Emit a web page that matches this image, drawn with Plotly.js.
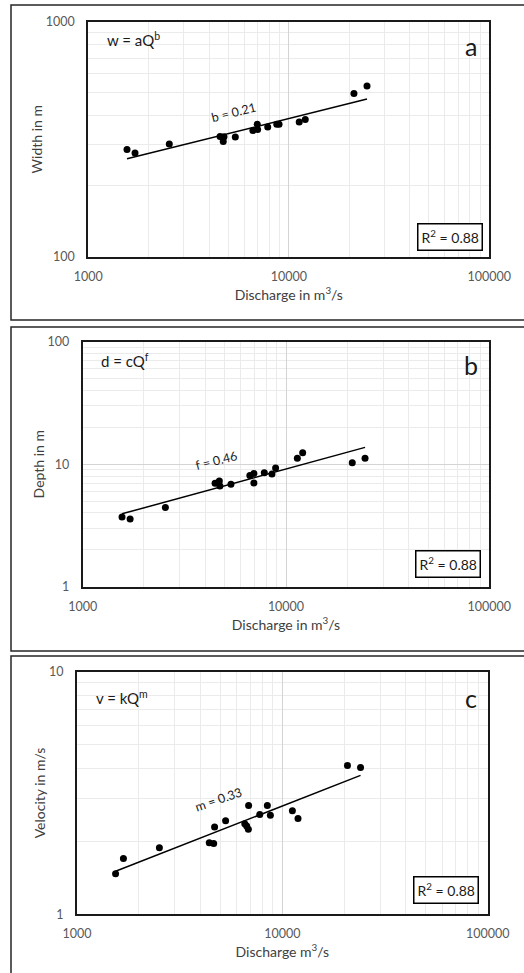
<!DOCTYPE html>
<html>
<head>
<meta charset="utf-8">
<script src="https://cdn.plot.ly/plotly-3.0.1.min.js"></script>
<style>
  html, body { margin: 0; padding: 0; background: #ffffff; }
  #chart { width: 524px; height: 973px; }
</style>
</head>
<body>
<div id="chart"></div>
<script>
// ---------------- DATA ----------------
// Panel a: width vs discharge
const qWidth = [1560, 1710, 2535, 4540, 4750, 4710, 5410, 6620, 6960, 6990, 7850, 8710, 8940, 11270, 12080, 21130, 24550];
const width  = [286, 276, 302, 325, 324, 309, 323, 344, 366, 348, 356, 366, 366, 374, 384, 495, 532];

// Panel b: depth vs discharge
const qDepth = [1561, 1711, 2551, 4478, 4700, 4730, 5360, 6640, 6950, 6950, 7820, 8530, 8890, 11370, 12080, 21180, 24480];
const depth  = [3.70, 3.57, 4.44, 6.98, 7.29, 6.63, 6.85, 8.08, 8.41, 7.02, 8.53, 8.32, 9.31, 11.2, 12.4, 10.3, 11.2];

// Panel c: velocity vs discharge
const qVelocity = [1541, 1683, 2519, 4406, 4630, 4677, 5293, 6561, 6703, 6829, 6850, 7762, 8451, 8744, 11190, 11920, 20750, 24030];
const velocity  = [1.47, 1.70, 1.88, 1.97, 1.96, 2.29, 2.43, 2.36, 2.31, 2.24, 2.81, 2.58, 2.81, 2.56, 2.67, 2.48, 4.11, 4.03];

// Tick labels
const xTickVals = [1000, 10000, 100000];
const xTickText = ["1000", "10000", "100000"];
const xMinorVals = [2000, 3000, 4000, 5000, 6000, 7000, 8000, 9000, 20000, 30000, 40000, 50000, 60000, 70000, 80000, 90000];
const yTickValsA = [100, 1000];
const yTickTextA = ["100", "1000"];
const yMinorValsA = [200, 300, 400, 500, 600, 700, 800, 900];
const yTickValsB = [1, 10, 100];
const yTickTextB = ["1", "10", "100"];
const yMinorValsB = [2, 3, 4, 5, 6, 7, 8, 9, 20, 30, 40, 50, 60, 70, 80, 90];
const yTickValsC = [1, 10];
const yTickTextC = ["1", "10"];
const yMinorValsC = [2, 3, 4, 5, 6, 7, 8, 9];

// Texts
const formulaA = "w = aQ<sup>b</sup>";
const formulaB = "d = cQ<sup>f</sup>";
const formulaC = "v = kQ<sup>m</sup>";
const exponentA = "b = 0.21";
const exponentB = "f = 0.46";
const exponentC = "m = 0.33";
const r2Text = "R<sup>2</sup> = 0.88";
const panelLetters = ["a", "b", "c"];
const yTitles = ["Width in m", "Depth in m", "Velocity in m/s"];
const xTitles = ["Discharge in m<sup>3</sup>/s", "Discharge in m<sup>3</sup>/s", "Discharge m<sup>3</sup>/s"];

// ---------------- HELPERS ----------------
function powerFit(xs, ys) {
  const lx = xs.map(Math.log10), ly = ys.map(Math.log10);
  const n = lx.length;
  const mx = lx.reduce((s, v) => s + v, 0) / n;
  const my = ly.reduce((s, v) => s + v, 0) / n;
  let sxy = 0, sxx = 0;
  for (let i = 0; i < n; i++) { sxy += (lx[i] - mx) * (ly[i] - my); sxx += (lx[i] - mx) ** 2; }
  const slope = sxy / sxx;
  const inter = my - slope * mx;
  const xmin = Math.min(...xs), xmax = Math.max(...xs);
  return { x: [xmin, xmax], y: [Math.pow(10, inter + slope * Math.log10(xmin)), Math.pow(10, inter + slope * Math.log10(xmax))] };
}

const FONT = 'Lato, "Liberation Sans", sans-serif';
const GRAY = '#595959';

function scatter(xs, ys, xa, ya) {
  return { x: xs, y: ys, xaxis: xa, yaxis: ya, type: 'scatter', mode: 'markers',
           marker: { color: '#000000', size: 7 }, showlegend: false, hoverinfo: 'skip' };
}
function trend(xs, ys, xa, ya) {
  const f = powerFit(xs, ys);
  return { x: f.x, y: f.y, xaxis: xa, yaxis: ya, type: 'scatter', mode: 'lines',
           line: { color: '#000000', width: 1.5 }, showlegend: false, hoverinfo: 'skip' };
}

const data = [
  trend(qWidth, width, 'x', 'y'), scatter(qWidth, width, 'x', 'y'),
  trend(qDepth, depth, 'x2', 'y2'), scatter(qDepth, depth, 'x2', 'y2'),
  trend(qVelocity, velocity, 'x3', 'y3'), scatter(qVelocity, velocity, 'x3', 'y3')
];

function xAxis(domain, anchor, title) {
  return {
    type: 'log', domain: domain, anchor: anchor, range: [3, 5],
    tickmode: 'array', tickvals: xTickVals, ticktext: xTickText,
    showgrid: true, gridcolor: '#d4d4d4', gridwidth: 1,
    minor: { tickmode: 'array', tickvals: xMinorVals, showgrid: true, gridcolor: '#ebebeb', gridwidth: 1, ticks: '' },
    showline: true, linecolor: '#1a1a1a', linewidth: 2, mirror: true,
    ticks: '', ticklabelstandoff: 7,
    tickfont: { family: FONT, size: 12.5, color: GRAY },
    title: { text: title, font: { family: FONT, size: 14, color: '#404040' }, standoff: 7 },
    zeroline: false, fixedrange: true
  };
}
function yAxis(domain, anchor, range, tv, tt, mv, title) {
  return {
    type: 'log', domain: domain, anchor: anchor, range: range,
    tickmode: 'array', tickvals: tv, ticktext: tt,
    showgrid: true, gridcolor: '#d4d4d4', gridwidth: 1,
    minor: { tickmode: 'array', tickvals: mv, showgrid: true, gridcolor: '#ebebeb', gridwidth: 1, ticks: '' },
    showline: true, linecolor: '#1a1a1a', linewidth: 2, mirror: true,
    ticks: '', ticklabelstandoff: 9,
    tickfont: { family: FONT, size: 12.5, color: GRAY },
    title: { text: title, font: { family: FONT, size: 14, color: '#404040' }, standoff: 0 },
    zeroline: false, fixedrange: true
  };
}

function textAnn(xref, yref, x, y, text, size, opts) {
  return Object.assign({ xref: xref, yref: yref, x: x, y: y, text: text, showarrow: false,
    font: { family: FONT, size: size, color: '#1a1a1a' } }, opts || {});
}

const annotations = [
  // formulas
  textAnn('x domain', 'y domain', 0.042, 0.925, formulaA, 15, { xanchor: 'left', yanchor: 'middle' }),
  textAnn('x2 domain', 'y2 domain', 0.040, 0.922, formulaB, 15, { xanchor: 'left', yanchor: 'middle' }),
  textAnn('x3 domain', 'y3 domain', 0.042, 0.893, formulaC, 15, { xanchor: 'left', yanchor: 'middle' }),
  // panel letters
  textAnn('x domain', 'y domain', 0.954, 0.897, panelLetters[0], 25, { xanchor: 'center', yanchor: 'middle' }),
  textAnn('x2 domain', 'y2 domain', 0.954, 0.905, panelLetters[1], 25, { xanchor: 'center', yanchor: 'middle' }),
  textAnn('x3 domain', 'y3 domain', 0.959, 0.893, panelLetters[2], 25, { xanchor: 'center', yanchor: 'middle' }),
  // exponent labels along trend lines (log coordinates)
  textAnn('x', 'y', 3.723, 2.614, exponentA, 12.5, { textangle: -14, xanchor: 'center', yanchor: 'middle' }),
  textAnn('x2', 'y2', 3.659, 1.034, exponentB, 12.5, { textangle: -14, xanchor: 'center', yanchor: 'middle' }),
  textAnn('x3', 'y3', 3.688, 0.475, exponentC, 12.5, { textangle: -19, xanchor: 'center', yanchor: 'middle' }),
  // R² boxes
  textAnn('x domain', 'y domain', 0.985, 0.083, r2Text, 14, { xanchor: 'right', yanchor: 'middle', bordercolor: '#000000', borderwidth: 1.5, borderpad: 3, bgcolor: '#ffffff' }),
  textAnn('x2 domain', 'y2 domain', 0.980, 0.092, r2Text, 14, { xanchor: 'right', yanchor: 'middle', bordercolor: '#000000', borderwidth: 1.5, borderpad: 3, bgcolor: '#ffffff' }),
  textAnn('x3 domain', 'y3 domain', 0.980, 0.099, r2Text, 14, { xanchor: 'right', yanchor: 'middle', bordercolor: '#000000', borderwidth: 1.5, borderpad: 3, bgcolor: '#ffffff' })
];

const W = 524, H = 973;
function px(v) { return v / W; }
function py(v) { return 1 - v / H; }
const panelBox = (top, bottom) => ({ type: 'rect', xref: 'paper', yref: 'paper',
  x0: px(11), x1: px(540), y0: py(bottom), y1: py(top), line: { color: '#262626', width: 1.5 }, layer: 'below' });

const layout = {
  width: W, height: H,
  margin: { l: 0, r: 0, t: 0, b: 0 },
  paper_bgcolor: '#ffffff', plot_bgcolor: '#ffffff',
  showlegend: false,
  font: { family: FONT, color: GRAY },
  xaxis:  xAxis([px(88.3), px(489.3)], 'y', xTitles[0]),
  yaxis:  yAxis([py(256.7), py(21.7)], 'x', [2, 3], yTickValsA, yTickTextA, yMinorValsA, yTitles[0]),
  xaxis2: xAxis([px(82.7), px(489.3)], 'y2', xTitles[1]),
  yaxis2: yAxis([py(586.7), py(341.7)], 'x2', [0, 2], yTickValsB, yTickTextB, yMinorValsB, yTitles[1]),
  xaxis3: xAxis([px(77), px(487.7)], 'y3', xTitles[2]),
  yaxis3: yAxis([py(914.3), py(671.7)], 'x3', [0, 1], yTickValsC, yTickTextC, yMinorValsC, yTitles[2]),
  annotations: annotations,
  shapes: [panelBox(5, 320), panelBox(327, 651), panelBox(656, 1000)]
};

Plotly.newPlot('chart', data, layout, { staticPlot: true, displayModeBar: false });
</script>
</body>
</html>
